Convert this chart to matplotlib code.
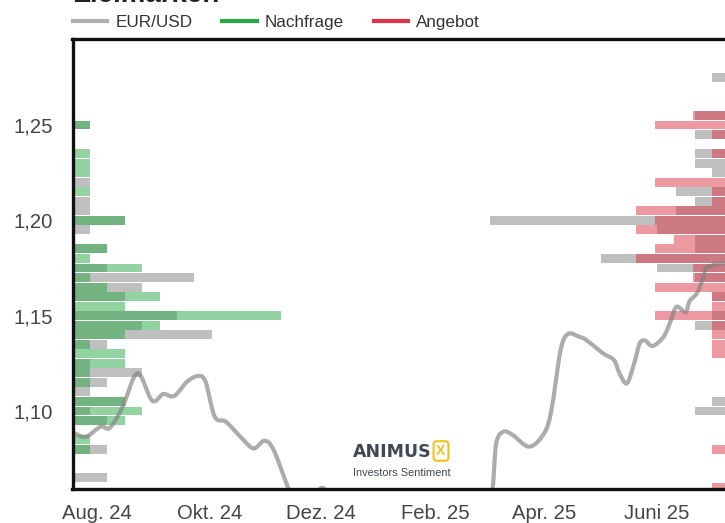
import matplotlib
matplotlib.use("Agg")
import matplotlib.pyplot as plt
import matplotlib.dates as mdates
from matplotlib.lines import Line2D
from matplotlib.path import Path
from matplotlib.patches import PathPatch
import numpy as np
import pandas as pd

plt.rcParams['font.family'] = ['Liberation Sans', 'DejaVu Sans']

# EUR/USD Kurs (geglaettet)
kurs_datum = [
    '2024-07-20', '2024-07-26', '2024-08-03', '2024-08-08', '2024-08-15', '2024-08-23',
    '2024-08-31', '2024-09-06', '2024-09-12', '2024-09-19', '2024-09-25', '2024-09-29',
    '2024-10-04', '2024-10-10', '2024-10-18', '2024-10-25', '2024-10-31', '2024-11-05',
    '2024-11-13', '2024-11-19', '2024-11-25', '2024-12-01', '2024-12-07', '2024-12-15',
    '2024-12-25', '2025-01-04', '2025-01-14', '2025-01-24', '2025-02-03', '2025-02-13',
    '2025-02-23', '2025-02-28', '2025-03-04', '2025-03-06', '2025-03-10', '2025-03-15',
    '2025-03-24', '2025-04-01', '2025-04-05', '2025-04-10', '2025-04-14', '2025-04-20',
    '2025-04-24', '2025-05-03', '2025-05-09', '2025-05-12', '2025-05-16', '2025-05-20',
    '2025-05-23', '2025-05-26', '2025-05-30', '2025-06-05', '2025-06-09', '2025-06-12',
    '2025-06-17', '2025-06-19', '2025-06-23', '2025-06-26', '2025-06-28', '2025-07-01',
    '2025-07-04', '2025-07-08', '2025-07-10',
]
kurs = [
    1.0883, 1.0865, 1.0918, 1.0912, 1.1023, 1.1198,
    1.1054, 1.1089, 1.1079, 1.1154, 1.1184, 1.1154,
    1.0970, 1.0944, 1.0865, 1.0804, 1.0844, 1.0796,
    1.0595, 1.0470, 1.0500, 1.0597, 1.0540, 1.0490,
    1.0410, 1.0320, 1.0280, 1.0410, 1.0360, 1.0450,
    1.0460, 1.0410, 1.0595, 1.0831, 1.0892, 1.0874,
    1.0813, 1.0883, 1.1005, 1.1320, 1.1404, 1.1390,
    1.1372, 1.1303, 1.1267, 1.1198, 1.1145, 1.1250,
    1.1355, 1.1369, 1.1341, 1.1390, 1.1477, 1.1547,
    1.1519, 1.1575, 1.1617, 1.1687, 1.1748, 1.1762,
    1.1773, 1.1773, 1.1770,
]

# Nachfrage-Zielmarken (links)
nf_level = [1.25, 1.235, 1.23, 1.225, 1.22, 1.215, 1.21, 1.205, 1.20, 1.195, 1.185, 1.18,
            1.175, 1.17, 1.165, 1.16, 1.155, 1.15, 1.145, 1.14, 1.135, 1.13, 1.125, 1.12,
            1.115, 1.11, 1.105, 1.10, 1.095, 1.085, 1.08, 1.065]
nf_alt = [1, 0, 0, 0, 1, 0, 1, 1, 3, 1, 2, 0,
          2, 7, 4, 3, 0, 6, 4, 8, 2, 0, 1, 4,
          2, 1, 3, 1, 2, 0, 2, 2]
nachfrage = [1, 1, 1, 1, 0, 1, 0, 0, 3, 0, 2, 1,
             4, 1, 2, 5, 3, 12, 5, 3, 1, 3, 3, 1,
             1, 0, 3, 4, 3, 1, 1, 0]

# Angebots-Zielmarken (rechts)
an_level = [1.275, 1.255, 1.25, 1.245, 1.235, 1.23, 1.225, 1.22, 1.215, 1.21, 1.205, 1.20,
            1.195, 1.19, 1.185, 1.18, 1.175, 1.17, 1.165, 1.16, 1.155, 1.15, 1.145, 1.14,
            1.135, 1.13, 1.105, 1.10, 1.08, 1.06]
an_alt = [0.9, 1.87, 0, 1.87, 1.87, 1.87, 0.9, 0, 2.96, 1.87, 2.96, 13.65,
          4.05, 1.87, 1.87, 7.27, 4.05, 1.87, 0, 0.9, 0, 0.9, 1.87, 0,
          0, 0, 0.9, 1.87, 0, 0]
angebot = [0, 1.98, 4.17, 0.9, 0.9, 0, 0, 4.17, 0.9, 0.9, 5.26, 4.17,
           5.26, 3.07, 4.17, 5.26, 1.98, 1.98, 4.17, 0.9, 0.9, 4.17, 0.9, 0.9,
           0.9, 0.9, 0, 0, 0.9, 0.9]

y_ticks = [1.10, 1.15, 1.20, 1.25]
y_labels = ['1,10', '1,15', '1,20', '1,25']
x_ticks = ['2024-08-01', '2024-10-01', '2024-12-01', '2025-02-01', '2025-04-01', '2025-06-01']
x_labels = ['Aug. 24', 'Okt. 24', 'Dez. 24', 'Feb. 25', 'Apr. 25', 'Juni 25']

fig = plt.figure(figsize=(7.25, 5.23), dpi=100)
ax = fig.add_axes([72.5 / 725, 34 / 523, 655 / 725, 450 / 523])
ax_bars = ax.twiny()
ax.set_zorder(ax_bars.get_zorder() + 1)
ax.patch.set_visible(False)

# Balken
bar_max = 655 / 17.4
h = 0.0047
ax_bars.barh(nf_level, nf_alt, height=h, left=0, color='#808080', alpha=0.5, linewidth=0)
ax_bars.barh(nf_level, nachfrage, height=h, left=0, color='#28a745', alpha=0.5, linewidth=0)
ax_bars.barh(an_level, an_alt, height=h, left=[bar_max - w for w in an_alt],
             color='#808080', alpha=0.5, linewidth=0)
ax_bars.barh(an_level, angebot, height=h, left=[bar_max - w for w in angebot],
             color='#dc3545', alpha=0.5, linewidth=0)
ax_bars.set_xlim(0, bar_max)
ax_bars.set_xticks([])
for s in ax_bars.spines.values():
    s.set_visible(False)

# Kurslinie als glatte Kurve (Catmull-Rom -> Bezier)
xs = mdates.date2num(pd.to_datetime(kurs_datum))
pts = np.column_stack([xs, kurs])
n = len(pts)
verts = [pts[0]]
codes = [Path.MOVETO]
for i in range(n - 1):
    p0 = pts[max(i - 1, 0)]
    p1 = pts[i]
    p2 = pts[i + 1]
    p3 = pts[min(i + 2, n - 1)]
    verts += [p1 + (p2 - p0) / 6, p2 - (p3 - p1) / 6, p2]
    codes += [Path.CURVE4] * 3
ax.add_patch(PathPatch(Path(verts, codes), fill=False, edgecolor='#808080', alpha=0.65,
                       lw=3, capstyle='round', joinstyle='round'))

start = pd.Timestamp('2024-08-01')
ax.set_xlim(start - pd.Timedelta(days=13.3), start + pd.Timedelta(days=342.7))
ax.set_ylim(1.0591, 1.2951)
ax.set_yticks(y_ticks)
ax.set_yticklabels(y_labels)
ax.set_xticks(pd.to_datetime(x_ticks))
ax.set_xticklabels(x_labels)
ax.tick_params(axis='y', length=0, labelsize=14.6, colors='#444444', pad=14)
ax.tick_params(axis='x', length=0, labelsize=14.6, colors='#444444', pad=11)
for s in ax.spines.values():
    s.set_linewidth(2.4)
    s.set_color('#111111')

# Legende
handles = [Line2D([], [], color='#b0b0b0', lw=3),
           Line2D([], [], color='#28a745', lw=3),
           Line2D([], [], color='#dc3545', lw=3)]
leg = fig.legend(handles, ['EUR/USD', 'Nachfrage', 'Angebot'], loc='center left',
                 bbox_to_anchor=(73 / 725, 1 - 22.5 / 523), ncol=3, frameon=False,
                 fontsize=12.3, handlelength=2.0, handletextpad=0.47, columnspacing=1.76,
                 borderpad=0, borderaxespad=0)
for t in leg.get_texts():
    t.set_color('#333333')

# Titel (oben abgeschnitten)
fig.text(73 / 725, 1 - 2 / 523, 'Zielmarken', fontsize=20, fontweight='bold',
         va='baseline', ha='left', color='#222222')

# Logo
fig.text(353 / 725, 1 - 457 / 523, 'ANIMUS', fontsize=12.5, fontweight='bold',
         family='DejaVu Sans', color='#3d4a55', va='baseline', ha='left')
fig.text(441 / 725, 1 - 451 / 523, 'X', fontsize=10, fontweight='bold', color='#f0c020',
         ha='center', va='center',
         bbox=dict(boxstyle='round,pad=0.2', fc='white', ec='#f0c020', lw=1.5))
fig.text(353 / 725, 1 - 476 / 523, 'Investors Sentiment', fontsize=7.9,
         color='#3d4a55', va='baseline', ha='left')

fig.savefig('out.png', dpi=100)
